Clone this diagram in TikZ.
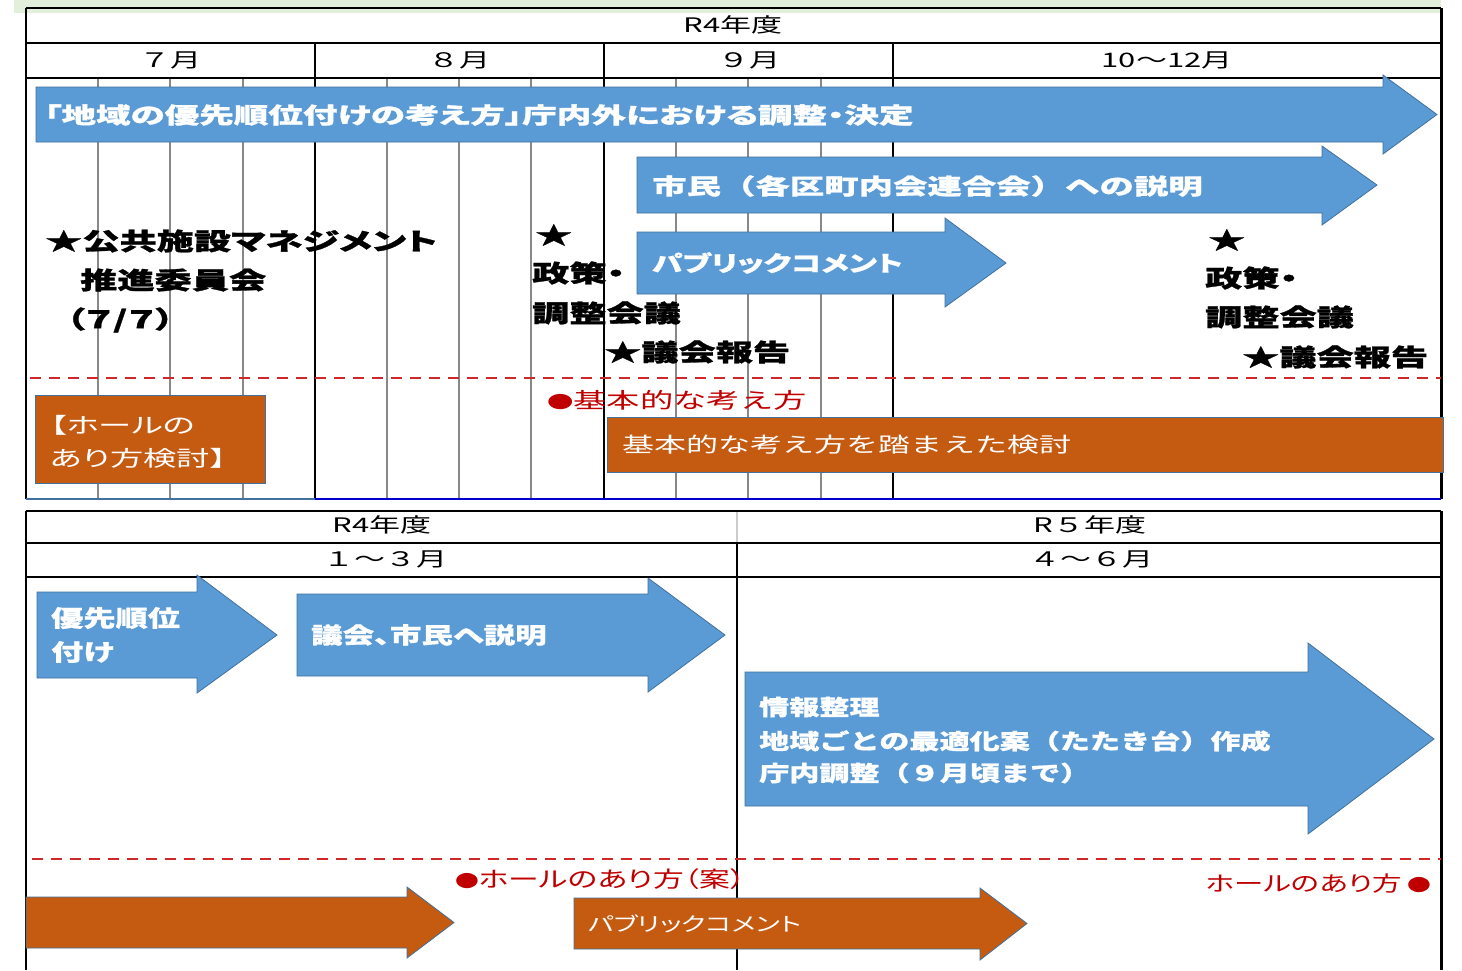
\documentclass[tikz,border=0pt]{standalone}
\usepackage{fontspec}
% Japanese faces, widened; fixed-pitch and proportional (palt) variants
\newfontfamily\jpf[FakeStretch=1.4,BoldFeatures={FakeBold=0.8}]{Noto Sans CJK JP}
\newfontfamily\jpw[FakeStretch=1.55,BoldFeatures={FakeBold=0.8}]{Noto Sans CJK JP}
\newfontfamily\jpp[FakeStretch=1.4,RawFeature=+palt,BoldFeatures={FakeBold=0.8}]{Noto Sans CJK JP}
\newfontfamily\jpq[FakeStretch=1.55,RawFeature=+palt,BoldFeatures={FakeBold=1.2}]{Noto Sans CJK JP}

\definecolor{arrowblue}{HTML}{5B9BD5}
\definecolor{edgeblue}{HTML}{41719C}
\definecolor{rust}{HTML}{C55A11}
\definecolor{darkred}{HTML}{C00000}
\definecolor{rulered}{HTML}{D02828}
\definecolor{palegreen}{HTML}{E2EFDA}
\definecolor{weekgray}{HTML}{888888}
\definecolor{rowblue}{HTML}{0000CC}

% block arrow: style, x left, y top, y bottom, x of head base, head top, head bottom, x tip
\newcommand{\blockarrow}[8]{%
  \path[#1] (#2,#3) -- (#5,#3) -- (#5,#6) -- (#8,{(#3+#4)/2}) -- (#5,#7) -- (#5,#4) -- (#2,#4) -- cycle;}
% small bullet used in the red notes
\newcommand{\notebullet}{{\fontsize{17}{20}\selectfont ●}}

\tikzset{
  bluearr/.style={fill=arrowblue, draw=edgeblue, line width=0.8pt},
  rustarr/.style={fill=rust, draw=edgeblue, line width=0.8pt},
  frame/.style={draw=black, line width=1.8pt},
  weekline/.style={draw=weekgray, line width=2.2pt},
  redrule/.style={draw=rulered, line width=1.8pt, dash pattern=on 11pt off 8pt},
  hdr/.style={inner sep=0pt, font=\jpw\fontsize{20}{22}\selectfont},
  lbl/.style={anchor=west, inner sep=0pt, text=white, font=\jpf\bfseries\fontsize{22}{26}\selectfont},
  event/.style={anchor=west, inner sep=0pt, text=black, font=\jpq\bfseries\fontsize{24}{26}\selectfont},
  redtxt/.style={anchor=west, inner sep=0pt, text=darkred, font=\jpp\fontsize{22}{24}\selectfont},
  boxtxt/.style={anchor=west, inner sep=0pt, text=white, font=\jpw\fontsize{20.7}{24}\selectfont},
}

\begin{document}
\begin{tikzpicture}[x=1pt,y=-1pt]
\useasboundingbox (0,0) rectangle (1462,970);
\fill[white] (0,0) rectangle (1462,970);
\fill[palegreen] (14,0) rectangle (1441,13);

% ---------- upper schedule (July - December) ----------
\foreach \wx in {98,170,243,387,459,531,676,748,821}
  \draw[weekline] (\wx,78) -- (\wx,499);
\foreach \mx in {315,604,893}
  \draw[frame] (\mx,43) -- (\mx,499);
\draw[frame] (26,8) -- (1441,8);
\draw[frame] (26,43) -- (1441,43);
\draw[frame] (26,78) -- (1441,78);
\draw[frame] (26,8) -- (26,499);
\draw[black, line width=3pt] (1441,8) -- (1441,499);
\draw[edgeblue, line width=2pt] (26,499) -- (315,499);
\draw[rowblue, line width=2pt] (315,499) -- (1441,499);
\draw[redrule] (30,378) -- (1441,378);

\node[hdr] (y1) at (733,25) {R4年度};
\node[hdr] (m7) at (170,60) {７月};
\node[hdr] (m8) at (459,60) {８月};
\node[hdr] (m9) at (749,60) {９月};
\node[hdr] (m10) at (1167,60) {10〜12月};

\blockarrow{bluearr}{36}{87}{142}{1383}{75}{154}{1437}
\node[lbl, font=\jpq\bfseries\fontsize{22.3}{26}\selectfont] (policy) at (44,115) {「地域の優先順位付けの考え方」庁内外における調整・決定};

\blockarrow{bluearr}{637}{157}{213}{1322}{146}{225}{1377}
\node[lbl, font=\jpw\bfseries\fontsize{22.2}{26}\selectfont] (citizens) at (652,186) {市民（各区町内会連合会）への説明};

\blockarrow{bluearr}{637}{232}{294}{945}{218}{307}{1006}
\node[lbl, font=\jpp\bfseries\fontsize{22}{26}\selectfont] (pubc1) at (652,263) {パブリックコメント};

\node[event] (pfm1) at (45,241) {★公共施設マネジメント};
\node[event] (pfm2) at (80,280) {推進委員会};
\node[event] (pfm3) at (66,320) {（７/７）};

\node[event] (st1) at (535,235) {★};
\node[event] (pol1) at (532,273) {政策・};
\node[event] (adj1) at (532,313) {調整会議};
\node[event] (rep1) at (604,352) {★議会報告};

\node[event] (st2) at (1208,240) {★};
\node[event] (pol2) at (1205,278) {政策・};
\node[event] (adj2) at (1205,317) {調整会議};
\node[event] (rep2) at (1242,357) {★議会報告};

\path[rustarr] (35,395) rectangle (265,483);
\node[boxtxt, font=\jpq\fontsize{21.5}{24}\selectfont] (hall1) at (50,425) {【ホールの};
\node[boxtxt, font=\jpq\fontsize{21.5}{24}\selectfont] (hall2) at (50,458) {あり方検討】};

\node[redtxt, font=\jpw\fontsize{21.5}{24}\selectfont] (basic) at (547,400) {\notebullet 基本的な考え方};
\path[rustarr] (607,417) rectangle (1443,472);
\node[boxtxt] (study) at (622,445) {基本的な考え方を踏まえた検討};

% ---------- lower schedule (January - June) ----------
\draw[black!20, line width=1.2pt] (737,511) -- (737,543);
\draw[frame] (737,543) -- (737,970);
\draw[frame] (26,511) -- (1441,511);
\draw[frame] (26,543) -- (1441,543);
\draw[frame] (26,577) -- (1441,577);
\draw[frame] (26,511) -- (26,970);
\draw[black, line width=3pt] (1441,511) -- (1441,970);
\draw[redrule] (32,859) -- (1441,859);

\node[hdr] (y2) at (382,525) {R4年度};
\node[hdr] (y3) at (1090,525) {R５年度};
\node[hdr] (m13) at (385,559) {１〜３月};
\node[hdr] (m46) at (1091,559) {４〜６月};

\blockarrow{bluearr}{37}{592}{678}{197}{575}{693}{277}
\node[lbl, font=\jpf\bfseries\fontsize{23}{26}\selectfont] (prio1) at (51,618) {優先順位};
\node[lbl, font=\jpf\bfseries\fontsize{23}{26}\selectfont] (prio2) at (51,652) {付け};

\blockarrow{bluearr}{297}{594}{676}{648}{578}{692}{725}
\node[lbl, font=\jpp\bfseries\fontsize{22.5}{26}\selectfont] (explain) at (311,635) {議会、市民へ説明};

\blockarrow{bluearr}{745}{672}{806}{1308}{643}{834}{1434}
\node[lbl, font=\jpf\bfseries\fontsize{21.5}{24}\selectfont] (info1) at (759,707) {情報整理};
\node[lbl, font=\jpf\bfseries\fontsize{21.5}{24}\selectfont] (info2) at (759,741) {地域ごとの最適化案（たたき台）作成};
\node[lbl, font=\jpf\bfseries\fontsize{21.5}{24}\selectfont] (info3) at (759,773) {庁内調整（９月頃まで）};

\node[redtxt] (hallplan) at (455,879) {\notebullet ホールのあり方（案）};
\node[redtxt, anchor=east, font=\jpp\fontsize{21}{24}\selectfont] (hallway) at (1431,884) {ホールのあり方\hspace{5pt}\notebullet};

\blockarrow{rustarr}{26}{897}{948}{407}{887}{958}{454}
\blockarrow{rustarr}{574}{898}{949}{980}{888}{960}{1027}
\node[boxtxt, font=\jpp\fontsize{19.5}{24}\selectfont] (pubc2) at (588,924) {パブリックコメント};
\end{tikzpicture}
\end{document}
